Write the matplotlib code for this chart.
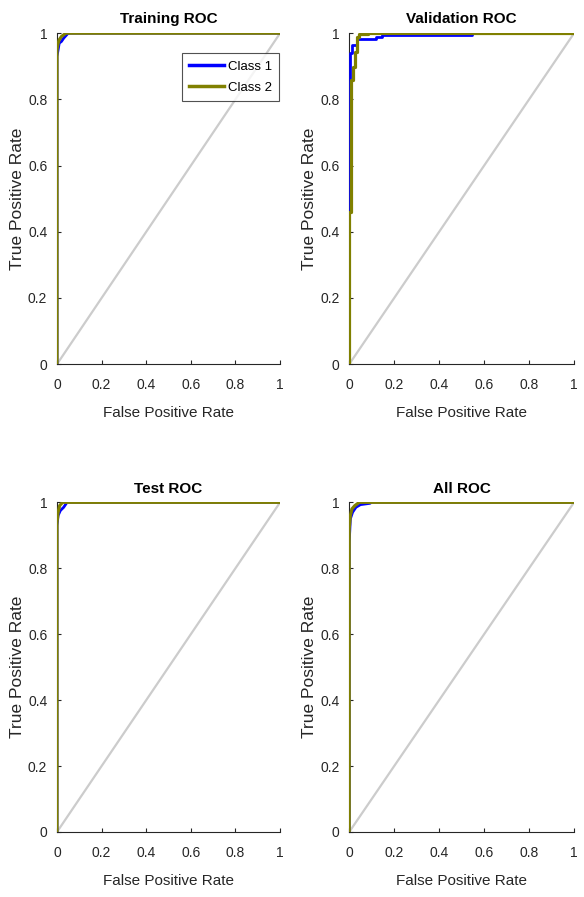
import matplotlib
matplotlib.use("Agg")
import matplotlib.pyplot as plt
from matplotlib import font_manager

# ---------------- data ----------------
titles = ["Training ROC", "Validation ROC", "Test ROC", "All ROC"]
class_names = ["Class 1", "Class 2"]

train_c1_fpr = [0.0, 0.0, 0.005, 0.010, 0.020, 0.030, 0.050, 1.0]
train_c1_tpr = [0.0, 0.93, 0.95, 0.97, 0.975, 0.985, 1.0, 1.0]
train_c2_fpr = [0.0, 0.0, 0.005, 0.010, 0.020, 0.040, 1.0]
train_c2_tpr = [0.0, 0.95, 0.97, 0.98, 0.99, 1.0, 1.0]

val_c1_fpr = [0.0, 0.0, 0.002, 0.002, 0.005, 0.005, 0.012, 0.012, 0.035, 0.035, 0.12, 0.12, 0.145, 0.145, 0.545, 0.545, 1.0]
val_c1_tpr = [0.0, 0.46, 0.46, 0.918, 0.918, 0.94, 0.94, 0.964, 0.964, 0.982, 0.982, 0.988, 0.988, 0.995, 0.995, 1.0, 1.0]
val_c2_fpr = [0.0, 0.0, 0.007, 0.007, 0.016, 0.016, 0.024, 0.024, 0.034, 0.034, 0.042, 0.042, 0.085, 0.085, 1.0]
val_c2_tpr = [0.0, 0.46, 0.46, 0.858, 0.858, 0.898, 0.898, 0.944, 0.944, 0.989, 0.989, 0.997, 0.997, 1.0, 1.0]

test_c1_fpr = [0.0, 0.0, 0.005, 0.015, 0.030, 0.045, 1.0]
test_c1_tpr = [0.0, 0.93, 0.96, 0.975, 0.985, 1.0, 1.0]
test_c2_fpr = [0.0, 0.0, 0.005, 0.012, 0.025, 1.0]
test_c2_tpr = [0.0, 0.94, 0.97, 0.99, 1.0, 1.0]

all_c1_fpr = [0.0, 0.0, 0.005, 0.015, 0.030, 0.050, 0.093, 0.093, 1.0]
all_c1_tpr = [0.0, 0.88, 0.95, 0.97, 0.985, 0.993, 0.997, 1.0, 1.0]
all_c2_fpr = [0.0, 0.0, 0.005, 0.012, 0.025, 0.045, 1.0]
all_c2_tpr = [0.0, 0.92, 0.96, 0.98, 0.99, 1.0, 1.0]

tick_vals = [0, 0.2, 0.4, 0.6, 0.8, 1]
tick_labels = ["0", "0.2", "0.4", "0.6", "0.8", "1"]

curves = [
    ((train_c1_fpr, train_c1_tpr), (train_c2_fpr, train_c2_tpr)),
    ((val_c1_fpr, val_c1_tpr), (val_c2_fpr, val_c2_tpr)),
    ((test_c1_fpr, test_c1_tpr), (test_c2_fpr, test_c2_tpr)),
    ((all_c1_fpr, all_c1_tpr), (all_c2_fpr, all_c2_tpr)),
]

# ---------------- style ----------------
names = {f.name for f in font_manager.fontManager.ttflist}
narrow = "Liberation Sans Narrow" if "Liberation Sans Narrow" in names else "Liberation Sans"
NARROW = [narrow, "DejaVu Sans"]
REG = ["Liberation Sans", "DejaVu Sans"]
txt = "#262626"

fig = plt.figure(figsize=(5.84, 8.97), dpi=100)
positions = [
    [0.0976, 0.594, 0.382, 0.369],
    [0.598, 0.594, 0.385, 0.369],
    [0.0976, 0.0725, 0.382, 0.3675],
    [0.598, 0.0725, 0.385, 0.3675],
]

for i, (pos, title, (c1, c2)) in enumerate(zip(positions, titles, curves)):
    ax = fig.add_axes(pos)
    ax.plot([0, 1], [0, 1], color="#cccccc", lw=1.6, zorder=1)
    l1, = ax.plot(c1[0], c1[1], color="#0000ff", lw=2.0, zorder=2, label=class_names[0])
    l2, = ax.plot(c2[0], c2[1], color="#808000", lw=2.3, zorder=3, label=class_names[1])
    ax.set_xlim(0, 1)
    ax.set_ylim(0, 1)
    for s in ["top", "right"]:
        ax.spines[s].set_visible(False)
    for s in ["left", "bottom"]:
        ax.spines[s].set_color(txt)
        ax.spines[s].set_linewidth(0.8)
    ax.set_xticks(tick_vals)
    ax.set_yticks(tick_vals)
    ax.set_xticklabels(tick_labels, family=NARROW, fontsize=10, color=txt)
    ax.set_yticklabels(tick_labels, family=NARROW, fontsize=10, color=txt)
    ax.tick_params(axis="y", direction="in", length=3, width=0.8, color=txt, pad=7)
    ax.tick_params(axis="x", direction="in", length=3, width=0.8, color=txt, pad=10)
    ax.set_title(title, family=NARROW, fontsize=11, fontweight="bold", pad=7)
    ax.set_xlabel("False Positive Rate", family=NARROW, fontsize=11, color=txt, labelpad=10)
    ax.set_ylabel("True Positive Rate", family=REG, fontsize=12.5, color=txt, labelpad=2)
    ax.patch.set_visible(False)
    for sp in ax.spines.values():
        sp.set_zorder(0)
    if i == 0:
        leg = ax.legend(handles=[l1, l2], loc="upper right", bbox_to_anchor=(0.995, 0.94),
                        prop={"family": NARROW, "size": 9.5}, frameon=True, fancybox=False,
                        edgecolor=txt, handlelength=2.6, handletextpad=0.3,
                        borderpad=0.55, labelspacing=0.7, borderaxespad=0.0)
        leg.get_frame().set_linewidth(0.8)
        for line in leg.get_lines():
            line.set_linewidth(2.5)

fig.savefig("out.png", dpi=100)
